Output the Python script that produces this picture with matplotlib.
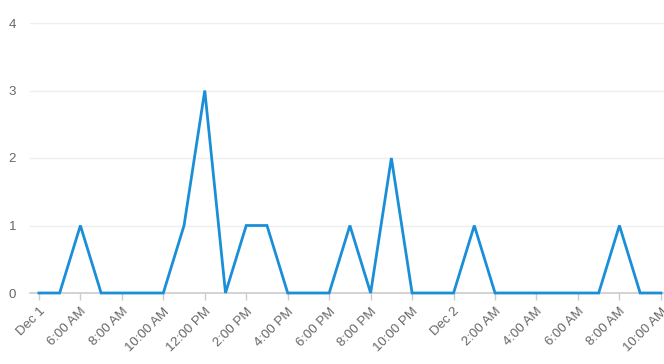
import matplotlib
matplotlib.use('Agg')
import matplotlib.pyplot as plt

# hourly counts, Dec 1 04:00 -> Dec 2 10:00
counts = [0, 0, 1, 0, 0, 0, 0, 1, 3, 0, 1, 1, 0, 0, 0, 1,
          0, 2, 0, 0, 0, 1, 0, 0, 0, 0, 0, 0, 1, 0, 0]
tick_labels = ['Dec 1', '6:00 AM', '8:00 AM', '10:00 AM', '12:00 PM',
               '2:00 PM', '4:00 PM', '6:00 PM', '8:00 PM', '10:00 PM',
               'Dec 2', '2:00 AM', '4:00 AM', '6:00 AM', '8:00 AM',
               '10:00 AM']
y_ticks = [0, 1, 2, 3, 4]

LINE = '#1a8fd8'
TEXT = '#666666'

plt.rcParams['font.family'] = ['Liberation Sans', 'DejaVu Sans']

fig = plt.figure(figsize=(6.64, 3.64), dpi=100)
ax = fig.add_axes([30 / 664, 71 / 364, 634 / 664, 270 / 364])

xs = list(range(len(counts)))
ax.plot(xs, counts, color=LINE, lw=2, solid_joinstyle='miter', clip_on=False, zorder=3)

ax.set_xlim(-0.43, 30.15)
ax.set_ylim(0, 4)

ax.set_xticks(xs[::2])
ax.set_xticklabels(tick_labels, rotation=45, ha='right', va='top',
                   rotation_mode='anchor', color=TEXT, fontsize=9.5)
ax.set_yticks(y_ticks)
ax.set_yticklabels([str(v) for v in y_ticks], color=TEXT, fontsize=9.5)

ax.tick_params(axis='x', length=5, width=1, color='#cccccc', pad=4)
ax.tick_params(axis='y', length=0, pad=10)

ax.grid(axis='y', color='#eeeeee', lw=1)
ax.set_axisbelow(True)
for side in ('left', 'right', 'top'):
    ax.spines[side].set_visible(False)
ax.spines['bottom'].set_color('#cccccc')
ax.spines['bottom'].set_linewidth(1.2)
ax.spines['bottom'].set_zorder(2)

fig.savefig('out.png', dpi=100)
